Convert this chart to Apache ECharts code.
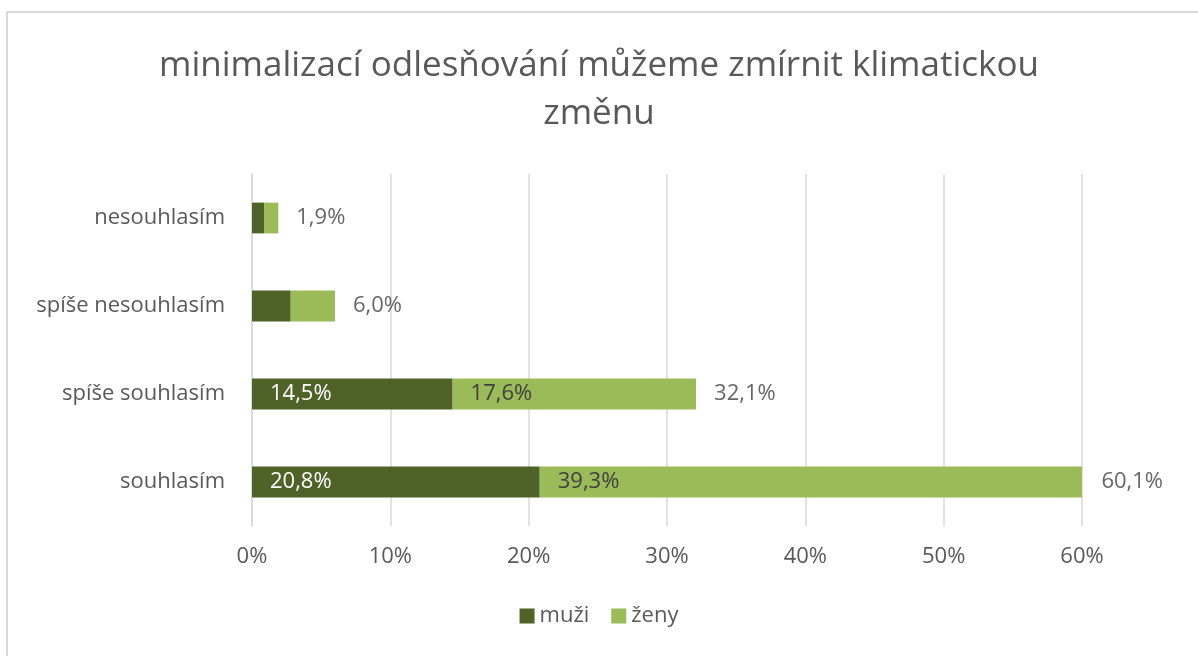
<!DOCTYPE html>
<html>
<head>
<meta charset="utf-8">
<script src="https://cdn.jsdelivr.net/npm/echarts@6/dist/echarts.min.js"></script>
<style>
  html, body { margin: 0; padding: 0; background: #fff; }
  .frame { position: absolute; left: 6px; top: 11px; width: 1192px; height: 645px;
           border-left: 2px solid #d9d9d9; border-top: 2px solid #d9d9d9; }
  #chart { position: absolute; left: 0; top: 0; width: 1198px; height: 656px; }
</style>
</head>
<body>
<div class="frame"></div>
<div id="chart"></div>
<script>
// kategorie odspodu nahoru (jak je kreslí osa)
var categories = ['souhlasím', 'spíše souhlasím', 'spíše nesouhlasím', 'nesouhlasím'];
var muzi = [20.8, 14.5, 2.8, 0.9];
var zeny = [39.3, 17.6, 3.2, 1.0];
var totals = [60.1, 32.1, 6.0, 1.9];
var xTicks = [0, 10, 20, 30, 40, 50, 60];

var font = '"Open Sans", "Noto Sans", sans-serif';
function pct(v) { return v.toFixed(1).replace('.', ',') + '%'; }

var myChart = echarts.init(document.getElementById('chart'));

var option = {
    backgroundColor: 'transparent',
    animation: false,
    title: {
        text: 'minimalizací odlesňování můžeme zmírnit klimatickou\nzměnu',
        left: 'center',
        top: 37,
        textStyle: { fontFamily: font, fontSize: 35, fontWeight: 'normal', color: '#595959', lineHeight: 48 }
    },
    legend: {
        data: ['muži', 'ženy'],
        bottom: 24,
        left: 'center',
        itemWidth: 15,
        itemHeight: 15,
        itemGap: 22,
        icon: 'rect',
        textStyle: { fontFamily: font, fontSize: 22, color: '#595959' }
    },
    grid: { left: 252, right: 116, top: 174, bottom: 130 },
    xAxis: {
        type: 'value',
        min: 0,
        max: 60,
        interval: 10,
        axisLine: { show: false },
        axisTick: { show: false },
        splitLine: { lineStyle: { color: '#d9d9d9', width: 1.5 } },
        axisLabel: {
            margin: 20,
            fontFamily: font, fontSize: 22, color: '#595959',
            formatter: function (v) { return xTicks.indexOf(v) >= 0 ? v + '%' : ''; }
        }
    },
    yAxis: {
        type: 'category',
        data: categories,
        axisLine: { show: true, lineStyle: { color: '#d9d9d9', width: 1.5 } },
        axisTick: { show: false },
        axisLabel: { margin: 27, fontFamily: font, fontSize: 22, color: '#595959' }
    },
    series: [
        {
            name: 'muži',
            type: 'bar',
            stack: 'a',
            barWidth: '35%',
            data: muzi,
            itemStyle: { color: '#4f6228' },
            label: {
                show: true,
                position: 'insideLeft',
                distance: 18,
                fontFamily: font, fontSize: 22, color: '#ffffff',
                formatter: function (p) { return p.value >= 10 ? pct(p.value) : ''; }
            }
        },
        {
            name: 'ženy',
            type: 'bar',
            stack: 'a',
            data: zeny,
            itemStyle: { color: '#9bbb59' },
            label: {
                show: true,
                position: 'insideLeft',
                distance: 18,
                fontFamily: font, fontSize: 22, color: '#404040',
                formatter: function (p) { return p.value >= 10 ? pct(p.value) : ''; }
            }
        },
        {
            name: 'celkem',
            type: 'scatter',
            data: totals.map(function (v, i) { return [v, categories[i]]; }),
            symbolSize: 0,
            clip: false,
            silent: true,
            label: {
                show: true,
                position: 'right',
                distance: 18,
                fontFamily: font, fontSize: 22, color: '#404040',
                formatter: function (p) { return pct(p.value[0]); }
            }
        }
    ]
};

myChart.setOption(option);
</script>
</body>
</html>
